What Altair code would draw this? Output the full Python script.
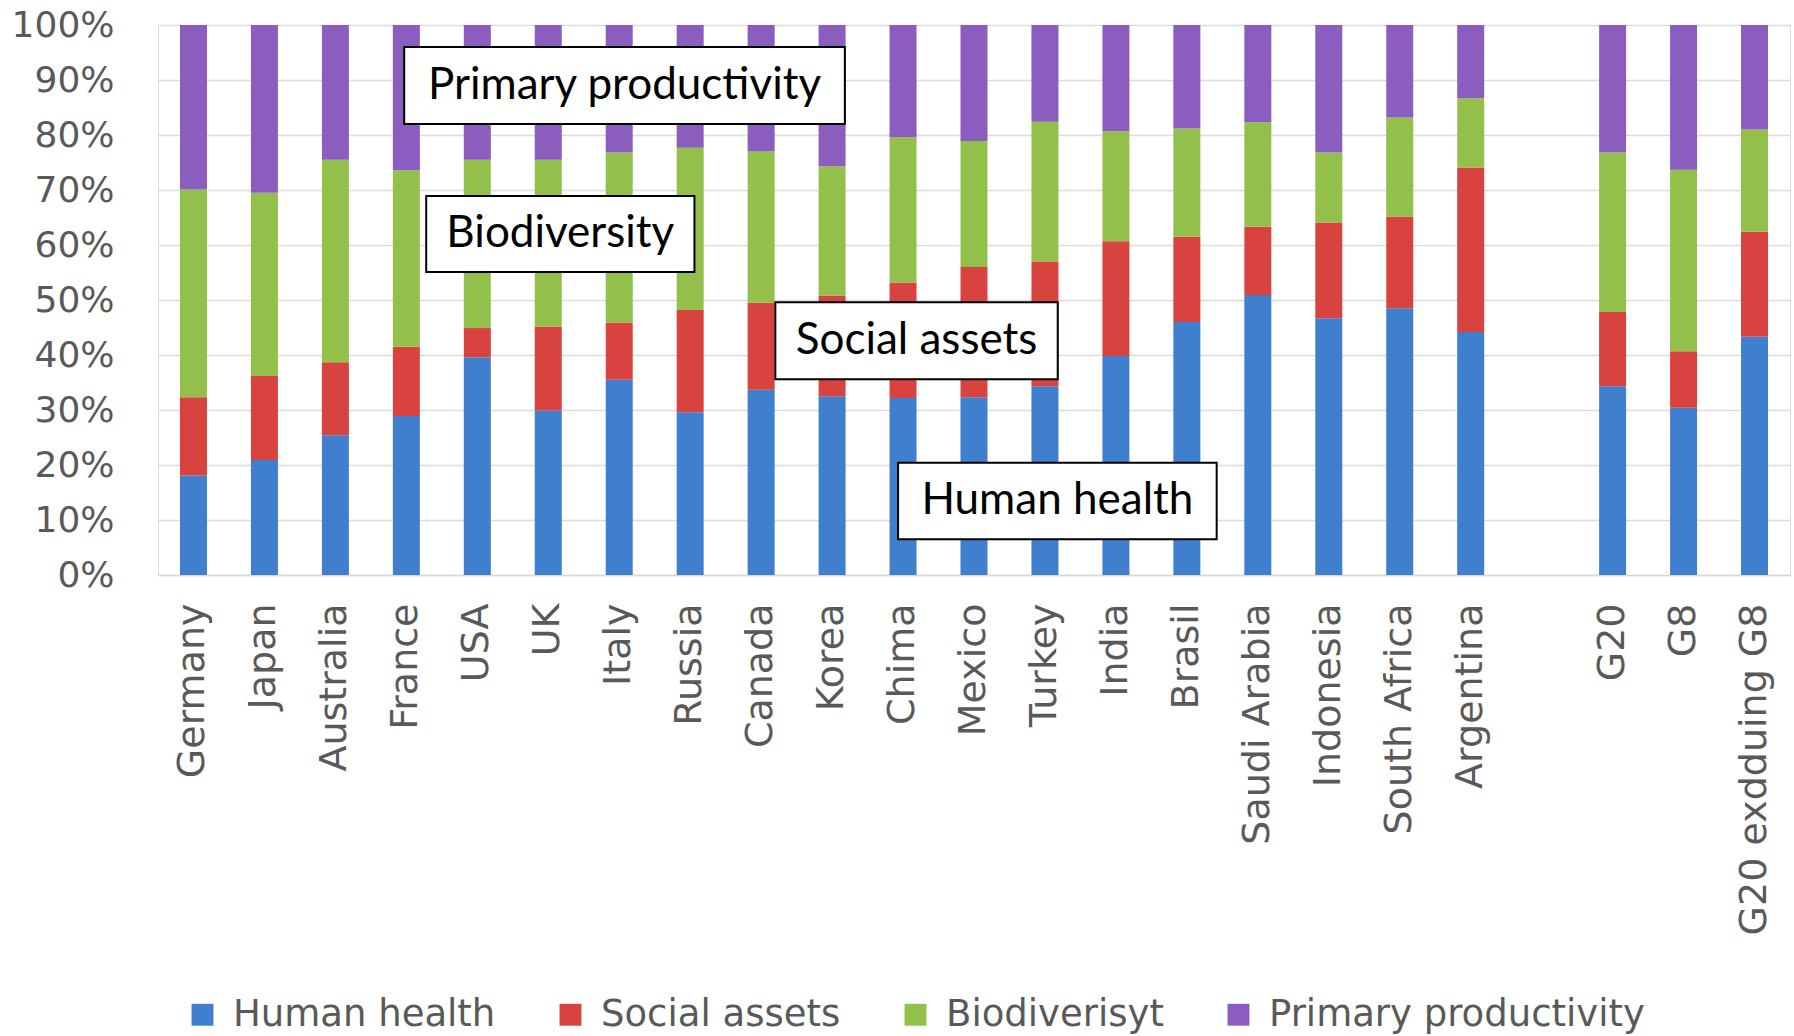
import altair as alt
import pandas as pd

# Categories along the x axis (a blank slot separates the countries from the groups)
countries = ["Germany", "Japan", "Australia", "France", "USA", "UK", "Italy",
             "Russia", "Canada", "Korea", "Chima", "Mexico", "Turkey", "India",
             "Brasil", "Saudi Arabia", "Indonesia", "South Africa", "Argentina",
             " ", "G20", "G8", "G20 exdduing G8"]

legend_labels = ["Human health", "Social assets", "Biodiverisyt", "Primary productivity"]
colors = ["#3f7fce", "#d8433f", "#93c04b", "#8a5dbf"]

# Share of each damage category per country (percent); None for the blank slot
human_health = [18.1, 20.9, 25.4, 28.9, 39.6, 29.9, 35.5, 29.6, 33.7, 32.5, 32.2,
                32.3, 34.3, 39.8, 46.0, 50.9, 46.7, 48.5, 44.2, None, 34.3, 30.4, 43.3]
social_assets = [14.2, 15.3, 13.3, 12.6, 5.3, 15.3, 10.4, 18.6, 15.8, 18.3, 21.0,
                 23.7, 22.7, 20.9, 15.5, 12.4, 17.4, 16.7, 29.9, None, 13.5, 10.3, 19.1]
biodiversity = [37.8, 33.3, 36.8, 32.1, 30.6, 30.3, 30.9, 29.5, 27.5, 23.5, 26.4,
                22.9, 25.4, 20.0, 19.7, 19.0, 12.7, 18.0, 12.6, None, 29.0, 33.0, 18.6]
primary_productivity = [29.9, 30.5, 24.5, 26.4, 24.5, 24.5, 23.2, 22.3, 23.0, 25.7, 20.4,
                        21.1, 17.6, 19.3, 18.8, 17.7, 23.2, 16.8, 13.3, None, 23.2, 26.3, 19.0]

rows = []
for i, c in enumerate(countries):
    for k, (s, vals) in enumerate(zip(legend_labels, [human_health, social_assets,
                                                      biodiversity, primary_productivity])):
        if vals[i] is not None:
            rows.append({"country": c, "series": s, "order": k, "share": vals[i] / 100.0})
df = pd.DataFrame(rows)

# Callout boxes, placed in category-index units (x) and share units (y)
box_text = ["Primary productivity", "Biodiversity", "Social assets", "Human health"]
box_x0 = [3.47, 3.78, 8.70, 10.43]
box_x1 = [9.68, 7.56, 12.68, 14.92]
box_y0 = [0.820, 0.551, 0.356, 0.065]
box_y1 = [0.960, 0.689, 0.496, 0.204]
boxes = pd.DataFrame({"text": box_text, "x0": box_x0, "x1": box_x1,
                      "y0": box_y0, "y1": box_y1})
boxes["xm"] = (boxes["x0"] + boxes["x1"]) / 2
boxes["ym"] = (boxes["y0"] + boxes["y1"]) / 2

W, H = 1632, 550
yscale = alt.Scale(domain=[0, 1], nice=False)

bars = alt.Chart(df).mark_bar(size=27).encode(
    x=alt.X("country:N", sort=countries,
            scale=alt.Scale(domain=countries, paddingInner=0.61, paddingOuter=0.305),
            axis=alt.Axis(title=None, labelAngle=270, labelFont="DejaVu Sans",
                          labelFontSize=38, labelColor="#595959", labelPadding=28,
                          ticks=False, domainColor="#d9d9d9", domainWidth=1.5,
                          grid=False, labelOverlap=False, labelLimit=600)),
    y=alt.Y("share:Q", stack="zero", scale=yscale,
            axis=alt.Axis(title=None, format=".0%", values=[i / 10 for i in range(11)],
                          labelFont="DejaVu Sans", labelFontSize=36,
                          labelColor="#595959", labelPadding=44, ticks=False,
                          domain=False, grid=True, gridColor="#dcdcdc", gridWidth=1.5)),
    color=alt.Color("series:N", sort=legend_labels,
                    scale=alt.Scale(domain=legend_labels, range=colors),
                    legend=alt.Legend(title=None, orient="none", direction="horizontal",
                                      legendX=26, legendY=971, symbolType="square",
                                      symbolSize=480, symbolStrokeWidth=0,
                                      labelFont="DejaVu Sans", labelFontSize=37,
                                      labelColor="#595959", labelOffset=12,
                                      columnPadding=56, labelLimit=600)),
    order=alt.Order("order:Q", sort="ascending"),
)

xq = alt.Scale(domain=[0, len(countries)], nice=False, zero=False)

rects = alt.Chart(boxes).mark_rect(fill="white", stroke="black", strokeWidth=2).encode(
    x=alt.X("x0:Q", scale=xq, axis=None),
    x2="x1:Q",
    y=alt.Y("y0:Q", scale=yscale),
    y2="y1:Q",
)

texts = alt.Chart(boxes).mark_text(font="Lato", fontSize=44, color="black",
                                   baseline="middle", align="center").encode(
    x=alt.X("xm:Q", scale=xq, axis=None),
    y=alt.Y("ym:Q", scale=yscale),
    text="text:N",
)

chart = alt.layer(bars, rects, texts).resolve_scale(x="independent").properties(
    width=W, height=H,
    autosize=alt.AutoSizeParams(type="none"),
    padding={"left": 158, "top": 25, "right": 4, "bottom": 461},
).configure_view(stroke=None).configure(background="white")

chart.save("out.html", embed_options={"renderer": "svg", "actions": False})
